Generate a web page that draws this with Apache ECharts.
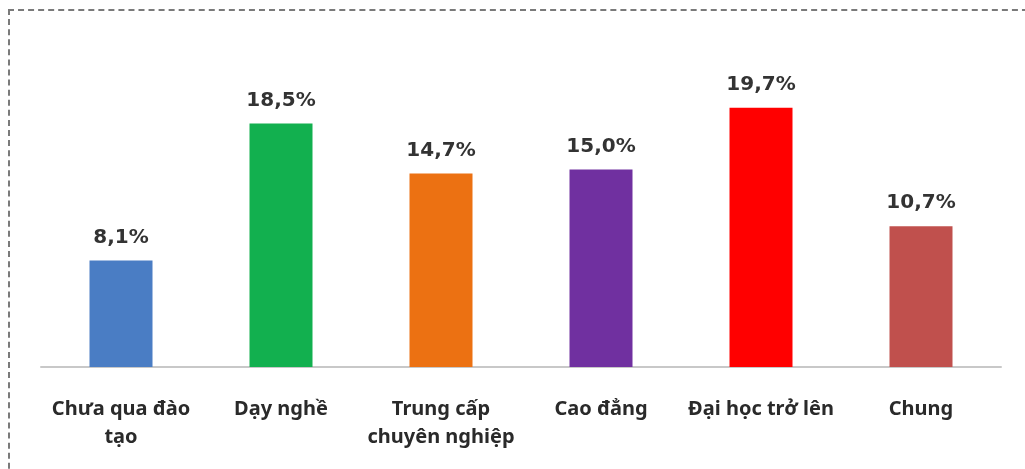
<!DOCTYPE html>
<html>
<head>
<meta charset="utf-8">
<script src="https://cdn.jsdelivr.net/npm/echarts@6/dist/echarts.min.js"></script>
<style>
  html, body { margin: 0; padding: 0; background: #fff; }
  #frame {
    position: absolute; left: 8px; top: 9px; width: 1030px; height: 480px;
    border-left: 2px dashed #7a7a7a; border-top: 2px dashed #7a7a7a;
    box-sizing: border-box; pointer-events: none; z-index: 2;
  }
  #chart { position: absolute; left: 0; top: 0; width: 1025px; height: 469px; }
</style>
</head>
<body>
<div id="chart"></div>
<div id="frame"></div>
<script>
// nhóm trình độ chuyên môn
const categories = ['Chưa qua đào\ntạo', 'Dạy nghề', 'Trung cấp\nchuyên nghiệp', 'Cao đẳng', 'Đại học trở lên', 'Chung']
const values = [8.1, 18.5, 14.7, 15.0, 19.7, 10.7]
const barColors = ['#4a7dc4', '#12b04f', '#ec7112', '#7030a0', '#ff0000', '#c0504d']

const myChart = echarts.init(document.getElementById('chart'))

const option = {
    backgroundColor: '#fff',
    animation: false,
    grid: {
        left: 41,
        right: 24,
        top: 38,
        bottom: 102,
        containLabel: false
    },
    xAxis: {
        type: 'category',
        data: categories,
        axisLine: {
            show: true,
            lineStyle: { color: '#c8c8c8', width: 2 }
        },
        axisTick: { show: false },
        axisLabel: {
            color: '#2a2a2a',
            fontFamily: 'Noto Sans',
            fontWeight: 'bold',
            fontSize: 20,
            lineHeight: 28,
            margin: 28,
            interval: 0
        }
    },
    yAxis: {
        type: 'value',
        min: 0,
        max: 25,
        show: false,
        splitLine: { show: false }
    },
    series: [
        {
            type: 'bar',
            barWidth: 63,
            data: values.map((v, i) => ({
                value: v,
                itemStyle: { color: barColors[i] }
            })),
            label: {
                show: true,
                position: 'top',
                distance: 13,
                color: '#333',
                fontFamily: 'DejaVu Sans',
                fontWeight: 'bold',
                fontSize: 20,
                formatter: p => p.value.toFixed(1).replace('.', ',') + '%'
            }
        }
    ]
}
myChart.setOption(option)
</script>
</body>
</html>
